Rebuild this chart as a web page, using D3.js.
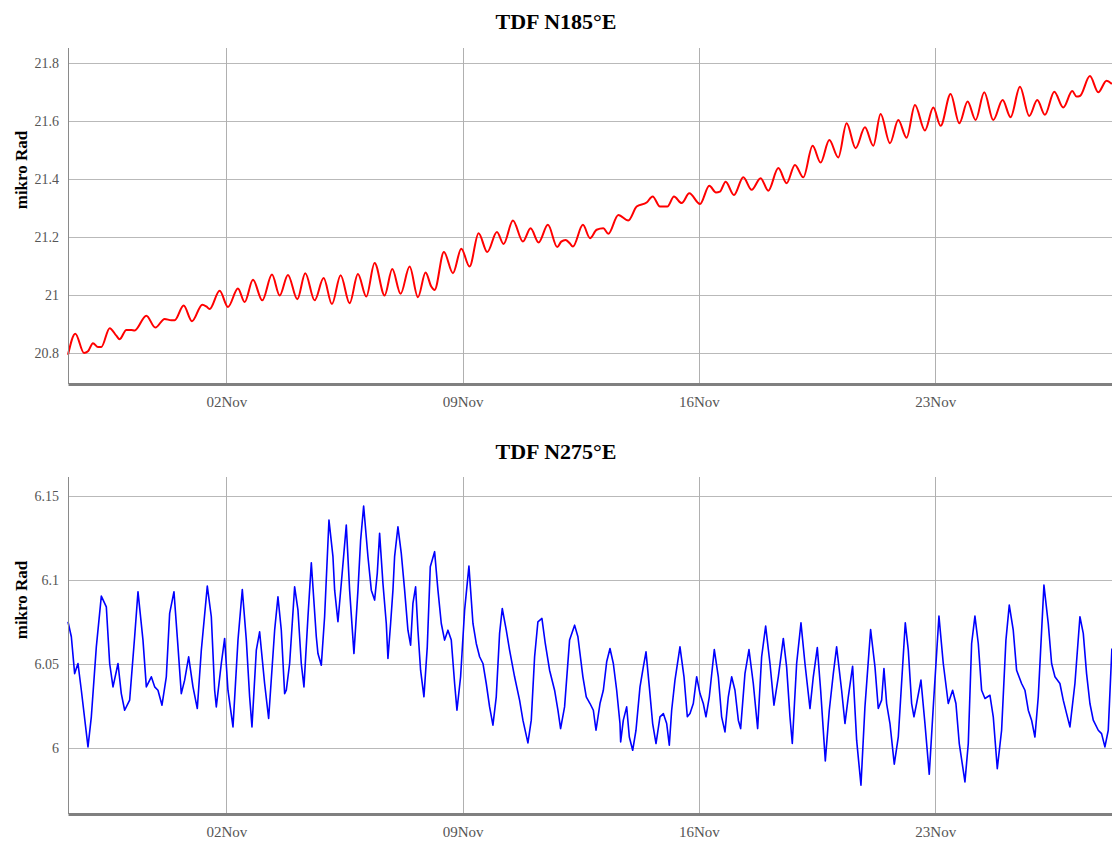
<!DOCTYPE html>
<html>
<head>
<meta charset="utf-8">
<script src="https://cdn.jsdelivr.net/npm/d3@7"></script>
<style>
  body { margin: 0; background: #fff; }
  svg { display: block; }
</style>
</head>
<body>
<svg id="chart" width="1112" height="843"></svg>
<script>

// days counted from 28 Oct 00:00 UTC
const startDate = Date.UTC(2019, 9, 28);

const tickDates = ["2019-11-02", "2019-11-09", "2019-11-16", "2019-11-23"];

const topTicks = [20.8, 21, 21.2, 21.4, 21.6, 21.8];
const bottomTicks = [6, 6.05, 6.1, 6.15];

const topDays = [0.311, 0.528, 0.785, 0.903, 1.051, 1.199, 1.298, 1.545, 1.742, 1.841, 2.039, 2.187, 2.285, 2.631, 2.897,
  3.174, 3.371, 3.470, 3.736, 3.983, 4.289, 4.408, 4.506, 4.803, 5.049, 5.345, 5.543, 5.790, 6.066, 6.353, 6.580,
  6.826, 7.103, 7.340, 7.616, 7.883, 8.129, 8.386, 8.653, 8.899, 9.146, 9.393, 9.689, 9.916, 10.163, 10.430, 10.676,
  10.903, 11.071, 11.170, 11.446, 11.713, 11.960, 12.206, 12.473, 12.730, 13.016, 13.213, 13.490, 13.786, 14.013,
  14.250, 14.526, 14.803, 14.921, 15.049, 15.168, 15.267, 15.563, 15.773, 15.970, 16.168, 16.316, 16.612, 16.908,
  17.155, 17.451, 17.629, 17.846, 18.063, 18.261, 18.488, 18.715, 19.031, 19.307, 19.505, 19.623, 19.791, 20.037,
  20.314, 20.561, 20.827, 21.054, 21.351, 21.597, 21.844, 22.091, 22.367, 22.604, 22.861, 23.127, 23.374, 23.641,
  23.917, 24.164, 24.381, 24.658, 24.904, 25.151, 25.398, 25.694, 25.941, 26.158, 26.454, 26.711, 26.958, 27.195,
  27.451, 27.718, 27.995, 28.231, 28.508, 28.784, 29.021, 29.248, 29.525, 29.791, 30.057, 30.186, 30.284, 30.581,
  30.827, 31.074, 31.232];

const topValues = [20.793, 20.866, 20.799, 20.805, 20.833, 20.820, 20.820, 20.885, 20.859, 20.847, 20.879, 20.879, 20.877, 20.928, 20.887,
  20.917, 20.912, 20.912, 20.963, 20.909, 20.966, 20.960, 20.951, 21.014, 20.958, 21.022, 20.975, 21.052, 20.981, 21.070, 20.998,
  21.069, 20.985, 21.075, 20.981, 21.058, 20.968, 21.068, 20.971, 21.072, 20.994, 21.110, 20.998, 21.089, 21.004, 21.098, 20.992,
  21.077, 21.029, 21.017, 21.148, 21.075, 21.159, 21.098, 21.213, 21.148, 21.217, 21.176, 21.257, 21.184, 21.230,
  21.181, 21.242, 21.165, 21.184, 21.190, 21.179, 21.167, 21.242, 21.196, 21.225, 21.230, 21.211, 21.276, 21.257,
  21.305, 21.319, 21.340, 21.305, 21.305, 21.340, 21.317, 21.351, 21.314, 21.377, 21.354, 21.357, 21.391, 21.345,
  21.406, 21.363, 21.403, 21.360, 21.438, 21.386, 21.449, 21.406, 21.515, 21.457, 21.535, 21.475, 21.593, 21.507,
  21.579, 21.515, 21.625, 21.524, 21.604, 21.543, 21.656, 21.568, 21.647, 21.584, 21.694, 21.593, 21.668, 21.604,
  21.700, 21.604, 21.673, 21.614, 21.719, 21.618, 21.673, 21.622, 21.702, 21.647, 21.704, 21.685, 21.687, 21.756,
  21.700, 21.740, 21.729];

const bottomDays = [0.311, 0.410, 0.508, 0.607, 0.706, 0.903, 1.002, 1.150, 1.298, 1.446, 1.545, 1.644, 1.792, 1.890, 1.989,
  2.137, 2.285, 2.384, 2.532, 2.631, 2.779, 2.878, 2.976, 3.095, 3.223, 3.322, 3.450, 3.569, 3.667, 3.766, 3.885,
  4.013, 4.141, 4.260, 4.437, 4.556, 4.655, 4.704, 4.852, 4.951, 5.049, 5.198, 5.346, 5.474, 5.593, 5.691, 5.760,
  5.889, 5.987, 6.135, 6.254, 6.432, 6.530, 6.629, 6.728, 6.777, 6.876, 7.024, 7.123, 7.221, 7.300, 7.419, 7.518,
  7.666, 7.715, 7.814, 7.912, 8.041, 8.159, 8.209, 8.307, 8.406, 8.554, 8.653, 8.781, 8.900, 8.979, 9.068, 9.196,
  9.295, 9.393, 9.472, 9.541, 9.640, 9.739, 9.788, 9.867, 9.936, 9.985, 10.084, 10.183, 10.282, 10.380, 10.459,
  10.528, 10.607, 10.676, 10.755, 10.854, 10.953, 11.042, 11.170, 11.269, 11.368, 11.466, 11.565, 11.664, 11.763,
  11.832, 11.940, 12.059, 12.187, 12.306, 12.404, 12.503, 12.602, 12.700, 12.799, 12.898, 12.996, 13.095, 13.174,
  13.293, 13.391, 13.539, 13.687, 13.786, 13.934, 14.033, 14.132, 14.230, 14.349, 14.448, 14.576, 14.724, 14.823,
  14.902, 15.020, 15.168, 15.317, 15.415, 15.563, 15.662,
  15.773, 15.872, 15.951, 16.069, 16.168, 16.267, 16.365, 16.464, 16.563, 16.661, 16.681, 16.760, 16.859, 16.938,
  17.037, 17.135, 17.254, 17.353, 17.432, 17.530, 17.629, 17.728, 17.846, 17.945, 18.044, 18.122, 18.192, 18.290,
  18.438, 18.557, 18.656, 18.735, 18.833, 18.932, 19.031, 19.129, 19.208, 19.307, 19.455, 19.574, 19.672, 19.771,
  19.870, 19.969, 20.067, 20.166, 20.235, 20.363, 20.482, 20.610, 20.739, 20.857, 20.976, 21.104, 21.222, 21.351,
  21.499, 21.597, 21.696, 21.765, 21.894, 22.022, 22.140, 22.289, 22.387, 22.506, 22.605, 22.743, 22.861, 22.980,
  23.078, 23.226, 23.325, 23.424, 23.552, 23.671, 23.799, 23.917, 24.085, 24.214, 24.312, 24.411, 24.480, 24.559,
  24.658, 24.786, 24.905, 25.112, 25.201, 25.300, 25.369, 25.447, 25.576, 25.694, 25.822, 25.941, 26.109, 26.237,
  26.385, 26.514, 26.612, 26.711, 26.879, 26.978, 27.077, 27.175, 27.274, 27.373, 27.472, 27.620, 27.718, 27.837,
  27.965, 28.093, 28.192, 28.310, 28.409, 28.557, 28.656, 28.755, 28.853, 28.952, 29.051, 29.219, 29.347, 29.446,
  29.545, 29.692, 29.791, 29.890, 29.989, 30.137, 30.285, 30.384, 30.482, 30.581, 30.680, 30.828, 30.926, 31.025,
  31.124, 31.232];

const bottomValues = [6.0752, 6.0663, 6.0444, 6.0504, 6.0345, 6.0008, 6.0187, 6.0603, 6.0905, 6.0841, 6.0504, 6.0365, 6.0504, 6.0325, 6.0226,
  6.0286, 6.0663, 6.0931, 6.0643, 6.0365, 6.0425, 6.0365, 6.0345, 6.0256, 6.0425, 6.0802, 6.0931, 6.0603, 6.0325, 6.0405, 6.0544,
  6.0365, 6.0236, 6.0583, 6.0964, 6.0782, 6.0345, 6.0246, 6.0504, 6.0653, 6.0345, 6.0127, 6.0643, 6.0944, 6.0643, 6.0306, 6.0127,
  6.0583, 6.0692, 6.0385, 6.0177, 6.0702, 6.0901, 6.0702, 6.0325, 6.0345, 6.0504, 6.0960, 6.0821, 6.0504, 6.0365, 6.0782, 6.1103,
  6.0663, 6.0563, 6.0494, 6.0782, 6.1357, 6.1139, 6.0940, 6.0752, 6.0980, 6.1327, 6.0940, 6.0563, 6.0940, 6.1238, 6.1440, 6.1139,
  6.0940, 6.0881, 6.1040, 6.1278, 6.0980, 6.0742, 6.0534, 6.0742, 6.0940, 6.1139, 6.1317, 6.1159, 6.0940, 6.0702, 6.0613,
  6.0861, 6.0960, 6.0702, 6.0464, 6.0306, 6.0603, 6.1079, 6.1169, 6.0940, 6.0742, 6.0643, 6.0702, 6.0643, 6.0385,
  6.0226, 6.0425, 6.0821, 6.1083, 6.0742, 6.0623, 6.0544, 6.0504, 6.0385, 6.0246, 6.0137, 6.0306, 6.0683, 6.0831,
  6.0702, 6.0583, 6.0425, 6.0286, 6.0167, 6.0032, 6.0167, 6.0544, 6.0752, 6.0772, 6.0623, 6.0464, 6.0345, 6.0226,
  6.0117, 6.0246, 6.0643, 6.0732, 6.0663, 6.0425, 6.0306,
  6.0266, 6.0226, 6.0107, 6.0266, 6.0345, 6.0514, 6.0593, 6.0504, 6.0345, 6.0147, 6.0038, 6.0167, 6.0246, 6.0067,
  5.9988, 6.0107, 6.0365, 6.0484, 6.0573, 6.0365, 6.0147, 6.0028, 6.0187, 6.0206, 6.0147, 6.0018, 6.0226, 6.0405,
  6.0603, 6.0425, 6.0187, 6.0206, 6.0266, 6.0425, 6.0325, 6.0266, 6.0187, 6.0306, 6.0587, 6.0425, 6.0187, 6.0097,
  6.0306, 6.0425, 6.0345, 6.0167, 6.0117, 6.0444, 6.0587, 6.0385, 6.0117, 6.0544, 6.0726, 6.0504, 6.0256, 6.0425,
  6.0653, 6.0484, 6.0187, 6.0028, 6.0504, 6.0746, 6.0504, 6.0236, 6.0425, 6.0599, 6.0345, 5.9925, 6.0226, 6.0444,
  6.0603, 6.0345, 6.0147, 6.0306, 6.0488, 6.0048, 5.9780, 6.0246, 6.0706, 6.0484, 6.0236, 6.0286, 6.0474, 6.0266,
  6.0147, 5.9905, 6.0067, 6.0746, 6.0583, 6.0266, 6.0187, 6.0266, 6.0405, 6.0147, 5.9845, 6.0246, 6.0786, 6.0504,
  6.0266, 6.0345, 6.0266, 6.0028, 5.9800, 6.0028, 6.0623, 6.0786, 6.0623, 6.0345, 6.0296, 6.0315, 6.0187, 5.9879,
  6.0107, 6.0643, 6.0851, 6.0702, 6.0464, 6.0385, 6.0345, 6.0226, 6.0167, 6.0067, 6.0306, 6.0970, 6.0742, 6.0504,
  6.0425, 6.0385, 6.0286, 6.0206, 6.0127, 6.0385, 6.0782, 6.0683, 6.0444, 6.0266, 6.0167, 6.0107, 6.0087, 6.0008,
  6.0107, 6.0593];

const svg = d3.select("#chart");
const width = +svg.attr("width");

const margin = {left: 68, right: 0};

const x = d3.scaleUtc()
  .domain([new Date(startDate + 0.311 * 864e5), new Date(startDate + 31.235 * 864e5)])
  .range([margin.left, width - margin.right]);

const toDate = d => new Date(startDate + d * 864e5);
const tickValues = tickDates.map(s => d3.utcParse("%Y-%m-%d")(s));

const drawPanel = function(opts) {

  const g = svg.append("g");

  const y = d3.scaleLinear()
    .domain(opts.domain)
    .range([opts.bottom, opts.top]);

  // horizontal grid
  g.append("g")
    .selectAll("line")
    .data(opts.ticks)
    .enter()
    .append("line")
    .attr("x1", margin.left)
    .attr("x2", width)
    .attr("y1", d => Math.round(y(d)) + 0.5)
    .attr("y2", d => Math.round(y(d)) + 0.5)
    .style("stroke", "#b9b9b9");

  // vertical grid
  g.append("g")
    .selectAll("line")
    .data(tickValues)
    .enter()
    .append("line")
    .attr("x1", d => Math.round(x(d)) + 0.5)
    .attr("x2", d => Math.round(x(d)) + 0.5)
    .attr("y1", opts.top)
    .attr("y2", opts.bottom)
    .style("stroke", "#b0b0b0");

  const points = opts.days.map((d, i) => [toDate(d), opts.values[i]]);

  g.append("path")
    .datum(points)
    .attr("fill", "none")
    .attr("stroke", opts.color)
    .attr("stroke-width", opts.lineWidth)
    .attr("stroke-linejoin", "round")
    .attr("d", d3.line()
      .x(d => x(d[0]))
      .y(d => y(d[1]))
      .curve(opts.curve));

  // left axis
  const yAxis = g.append("g")
    .attr("transform", "translate(" + margin.left + ",0)")
    .call(d3.axisLeft(y).tickValues(opts.ticks).tickSize(0).tickPadding(9).tickFormat(d => String(d)));
  yAxis.select(".domain").attr("stroke", "#8a8a8a").attr("d", "M0.5," + opts.top + "V" + opts.bottom);
  yAxis.selectAll("text")
    .style("font-family", "'Liberation Serif', 'Times New Roman', serif")
    .style("font-size", "14px")
    .attr("fill", "#555");

  // bottom axis
  const xAxis = g.append("g")
    .attr("transform", "translate(0," + opts.bottom + ")")
    .call(d3.axisBottom(x).tickValues(tickValues).tickSize(0).tickPadding(12).tickFormat(d3.utcFormat("%d%b")));
  xAxis.select(".domain")
    .attr("stroke", "#808080")
    .attr("stroke-width", 3);
  xAxis.selectAll("text")
    .style("font-family", "'Liberation Serif', 'Times New Roman', serif")
    .style("font-size", "15px")
    .attr("fill", "#555");

  svg.append("text")
    .attr("x", width / 2)
    .attr("y", opts.titleY)
    .attr("text-anchor", "middle")
    .style("font-family", "'Liberation Serif', 'Times New Roman', serif")
    .style("font-weight", "bold")
    .style("font-size", "22px")
    .text(opts.title);

  svg.append("text")
    .attr("transform", "translate(27," + opts.labelY + ") rotate(-90)")
    .attr("text-anchor", "middle")
    .style("font-family", "'Liberation Serif', 'Times New Roman', serif")
    .style("font-weight", "bold")
    .style("font-size", "17px")
    .text("mikro Rad");
};

drawPanel({
  title: "TDF N185°E", titleY: 29, labelY: 170,
  top: 48, bottom: 384,
  domain: [20.692, 21.853], ticks: topTicks,
  days: topDays, values: topValues,
  color: "#ff0000", lineWidth: 2, curve: d3.curveMonotoneX
});

drawPanel({
  title: "TDF N275°E", titleY: 459, labelY: 600,
  top: 477, bottom: 814,
  domain: [5.9609, 6.1613], ticks: bottomTicks,
  days: bottomDays, values: bottomValues,
  color: "#0000ff", lineWidth: 1.6, curve: d3.curveLinear
});

</script>
</body>
</html>
